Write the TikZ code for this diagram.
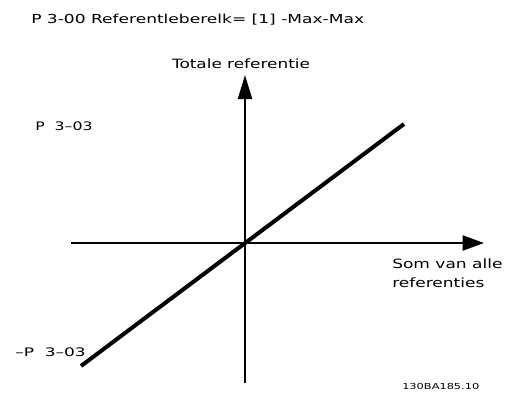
\documentclass[tikz,border=0pt]{standalone}
\usepackage{fontspec}
\setmainfont{DejaVu Sans}
\usetikzlibrary{arrows.meta}
\newcommand{\wtext}[2][1.36]{\scalebox{#1}[1]{#2}}
\begin{document}
\begin{tikzpicture}[x=0.75pt,y=-0.75pt,
  vaxis/.style={line width=1.5pt,-{Triangle[length=18pt,width=10.5pt]}},
  haxis/.style={line width=1.5pt,-{Triangle[length=16pt,width=11.25pt]}},
  curve/.style={line width=3pt},
  ttl/.style={inner sep=0pt,font=\fontsize{9.3}{11}\selectfont},
  lbl/.style={inner sep=0pt,font=\fontsize{9.6}{14.25}\selectfont},
  plbl/.style={inner sep=0pt,font=\fontsize{8.8}{11}\selectfont},
  code/.style={inner sep=0pt,font=\fontsize{6.2}{8}\selectfont}]
\useasboundingbox (0,0) rectangle (508,393);
\node[ttl,anchor=west] (title) at (31,20) {\wtext[1.375]{P 3-00 Referentleberelk= [1] -Max-Max}};
\coordinate (vb) at (245,383);
\coordinate (vt) at (245,75);
\coordinate (hl) at (71,243);
\coordinate (hr) at (484,243);
\draw[vaxis] (vb) -- (vt);
\draw[haxis] (hl) -- (hr);
\coordinate (c1) at (81,366);
\coordinate (c2) at (404,124);
\draw[curve] (c1) -- (c2);
\node[lbl] (ylab) at (241,63.5) {\wtext[1.32]{Totale referentie}};
\node[lbl,anchor=west] (xlab1) at (392,264) {\wtext[1.33]{Som van alle}};
\node[lbl,anchor=west] (xlab2) at (392,283) {\wtext[1.33]{referenties}};
\node[plbl,anchor=west] (pmax) at (35,126) {\wtext[1.34]{P\ \ 3--03}};
\node[plbl,anchor=west] (pmin) at (15,352) {\wtext[1.45]{--P\ \ 3--03}};
\node[code,anchor=west] (id) at (402,386) {\wtext[1.375]{130BA185.10}};
\end{tikzpicture}
\end{document}
